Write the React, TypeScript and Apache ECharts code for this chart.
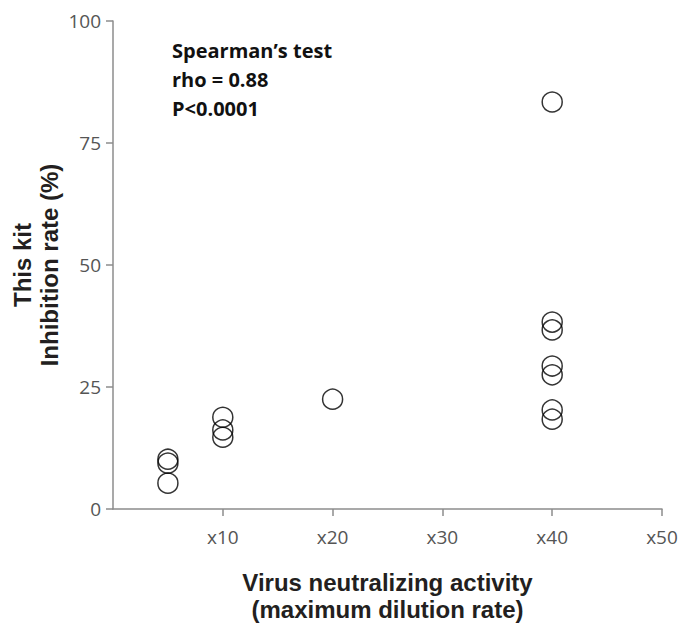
import React, { useEffect, useRef } from "react";
import * as echarts from "echarts";

const dilution = [5, 5, 5, 10, 10, 10, 20, 40, 40, 40, 40, 40, 40, 40];
const inhibition = [10.2, 9.4, 5.3, 18.8, 16.2, 14.7, 22.5, 83.4, 38.3, 36.7, 29.3, 27.5, 20.3, 18.4];
const xTicks = [10, 20, 30, 40, 50];
const yTicks = [0, 25, 50, 75, 100];
const annotation = ["Spearman’s test", "rho = 0.88", "P<0.0001"];

export default function App() {
  const ref = useRef<HTMLDivElement>(null);
  useEffect(() => {
    if (!ref.current) return;
    const chart = echarts.init(ref.current, null, { renderer: "svg" });
    const axisLine = { show: true, lineStyle: { color: "#8c8c8c", width: 1.5 } };
    chart.setOption({
      animation: false,
      backgroundColor: "#ffffff",
      grid: { left: 113, top: 21, right: 32, bottom: 119, containLabel: false, outerBoundsMode: "none" },
      xAxis: {
        type: "value",
        min: 0,
        max: 50,
        interval: 10,
        axisLine,
        axisTick: { show: true, length: 7, inside: false, customValues: xTicks, lineStyle: { color: "#8c8c8c", width: 1.5 } },
        axisLabel: {
          customValues: xTicks,
          formatter: (v: number) => "x" + v,
          color: "#555555",
          fontFamily: "Open Sans",
          fontSize: 19,
          margin: 18,
        },
        splitLine: { show: false },
        name: "Virus neutralizing activity\n(maximum dilution rate)",
        nameLocation: "middle",
        nameGap: 60,
        nameMoveOverlap: false,
        nameTextStyle: {
          fontFamily: "Liberation Sans",
          fontWeight: "bold",
          fontSize: 24,
          color: "#231f20",
          lineHeight: 27,
          verticalAlign: "top",
        },
      },
      yAxis: {
        type: "value",
        min: 0,
        max: 100,
        interval: 25,
        axisLine,
        axisTick: { show: true, length: 7, customValues: yTicks, lineStyle: { color: "#8c8c8c", width: 1.5 } },
        axisLabel: {
          customValues: yTicks,
          color: "#555555",
          fontFamily: "Open Sans",
          fontSize: 19,
          margin: 12,
        },
        splitLine: { show: false },
        name: "This kit\nInhibition rate (%)",
        nameLocation: "middle",
        nameGap: 50,
        nameMoveOverlap: false,
        nameTextStyle: {
          fontFamily: "Liberation Sans",
          fontWeight: "bold",
          fontSize: 24,
          color: "#231f20",
          lineHeight: 27,
        },
      },
      graphic: [
        {
          type: "text",
          left: 172,
          top: 36,
          style: {
            text: annotation.join("\n"),
            fontFamily: "Open Sans",
            fontWeight: "bold",
            fontSize: 20,
            lineHeight: 29,
            fill: "#111111",
          },
        },
      ],
      series: [
        {
          type: "scatter",
          data: dilution.map((d, i) => [d, inhibition[i]]),
          symbol: "circle",
          symbolSize: 20,
          itemStyle: { color: "rgba(255,255,255,0)", borderColor: "#000000", borderWidth: 1.5 },
        },
      ],
    });
    return () => chart.dispose();
  }, []);
  return <div ref={ref} style={{ position: "absolute", left: 0, top: 0, width: 694, height: 628 }} />;
}
